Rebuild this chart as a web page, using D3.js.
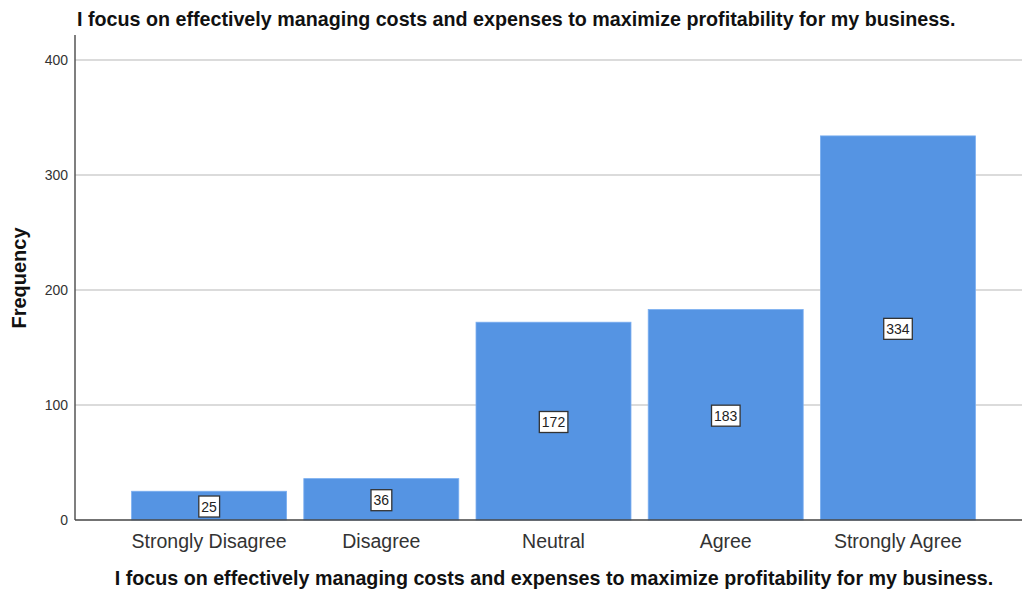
<!DOCTYPE html>
<html>
<head>
<meta charset="utf-8">
<script src="https://cdn.jsdelivr.net/npm/d3@7"></script>
<style>
  html, body { margin: 0; padding: 0; background: #fff; }
  svg { display: block; font-family: Arial, "Liberation Sans", sans-serif; }
</style>
</head>
<body>
<svg id="chart" width="1024" height="590"></svg>
<script>
// Response categories and their frequencies
const categories = ["Strongly Disagree", "Disagree", "Neutral", "Agree", "Strongly Agree"];
const frequencies = [25, 36, 172, 183, 334];
const yTicks = [0, 100, 200, 300, 400];
const chartTitle = "I focus on effectively managing costs and expenses to maximize profitability for my business.";
const xTitle = "I focus on effectively managing costs and expenses to maximize profitability for my business.";
const yTitle = "Frequency";

const svg = d3.select("#chart");
const plot = { left: 75, right: 1022, top: 35, bottom: 520 };

const x = d3.scaleBand()
  .domain(categories)
  .range([123, 984])
  .paddingInner(0.1)
  .paddingOuter(0.05);

const y = d3.scaleLinear()
  .domain([0, 400])
  .range([plot.bottom, 60]);

// Horizontal gridlines
svg.append("g")
  .selectAll("line")
  .data(yTicks.filter(d => d > 0))
  .join("line")
  .attr("x1", plot.left)
  .attr("x2", plot.right)
  .attr("y1", d => y(d))
  .attr("y2", d => y(d))
  .attr("stroke", "#cfcfcf")
  .attr("stroke-width", 1.5);

// Y axis tick labels
const yAxis = d3.axisLeft(y).tickValues(yTicks).tickSize(0).tickPadding(7);
const yg = svg.append("g").attr("transform", `translate(${plot.left},0)`).call(yAxis);
yg.select(".domain").remove();
yg.selectAll("text")
  .attr("font-size", 14)
  .attr("fill", "#333")
  .attr("font-family", "Arial, 'Liberation Sans', sans-serif");

// Bars
svg.append("g")
  .selectAll("rect")
  .data(categories.map((c, i) => ({ c, v: frequencies[i] })))
  .join("rect")
  .attr("x", d => x(d.c))
  .attr("y", d => y(d.v))
  .attr("width", x.bandwidth())
  .attr("height", d => y(0) - y(d.v))
  .attr("fill", "#5594e3")
  .attr("stroke", "#7aaef0")
  .attr("stroke-width", 0.8);

// Axis lines
svg.append("line")
  .attr("x1", plot.left).attr("x2", plot.left)
  .attr("y1", plot.top).attr("y2", plot.bottom)
  .attr("stroke", "#555").attr("stroke-width", 1.5);
svg.append("line")
  .attr("x1", plot.left).attr("x2", plot.right)
  .attr("y1", plot.bottom).attr("y2", plot.bottom)
  .attr("stroke", "#444").attr("stroke-width", 1.5);

// Value labels in boxes at bar mid-height
const labels = svg.append("g")
  .selectAll("g")
  .data(categories.map((c, i) => ({ c, v: frequencies[i] })))
  .join("g")
  .attr("transform", d => `translate(${x(d.c) + x.bandwidth() / 2},${(y(d.v) + y(0)) / 2 + 1})`);

labels.append("text")
  .attr("text-anchor", "middle")
  .attr("dy", "0.35em")
  .attr("font-size", 14)
  .attr("fill", "#222")
  .text(d => d.v)
  .each(function () {
    const b = this.getBBox();
    d3.select(this.parentNode).insert("rect", "text")
      .attr("x", b.x - 2.5)
      .attr("y", b.y - 2.5)
      .attr("width", b.width + 5)
      .attr("height", b.height + 5)
      .attr("fill", "#fff")
      .attr("stroke", "#333")
      .attr("stroke-width", 1.3);
  });

// X axis category labels
const xAxis = d3.axisBottom(x).tickSize(0).tickPadding(14);
const xg = svg.append("g").attr("transform", `translate(0,${plot.bottom})`).call(xAxis);
xg.select(".domain").remove();
xg.selectAll("text")
  .attr("font-size", 19.5)
  .attr("fill", "#333")
  .attr("font-family", "Arial, 'Liberation Sans', sans-serif");

// Titles
svg.append("text")
  .attr("x", 77).attr("y", 26)
  .attr("font-size", 19.7).attr("font-weight", "bold").attr("fill", "#111")
  .text(chartTitle);

svg.append("text")
  .attr("x", 554).attr("y", 585)
  .attr("text-anchor", "middle")
  .attr("font-size", 19.7).attr("font-weight", "bold").attr("fill", "#111")
  .text(xTitle);

svg.append("text")
  .attr("transform", "translate(26,278) rotate(-90)")
  .attr("text-anchor", "middle")
  .attr("font-size", 20).attr("font-weight", "bold").attr("fill", "#111")
  .text(yTitle);
</script>
</body>
</html>
